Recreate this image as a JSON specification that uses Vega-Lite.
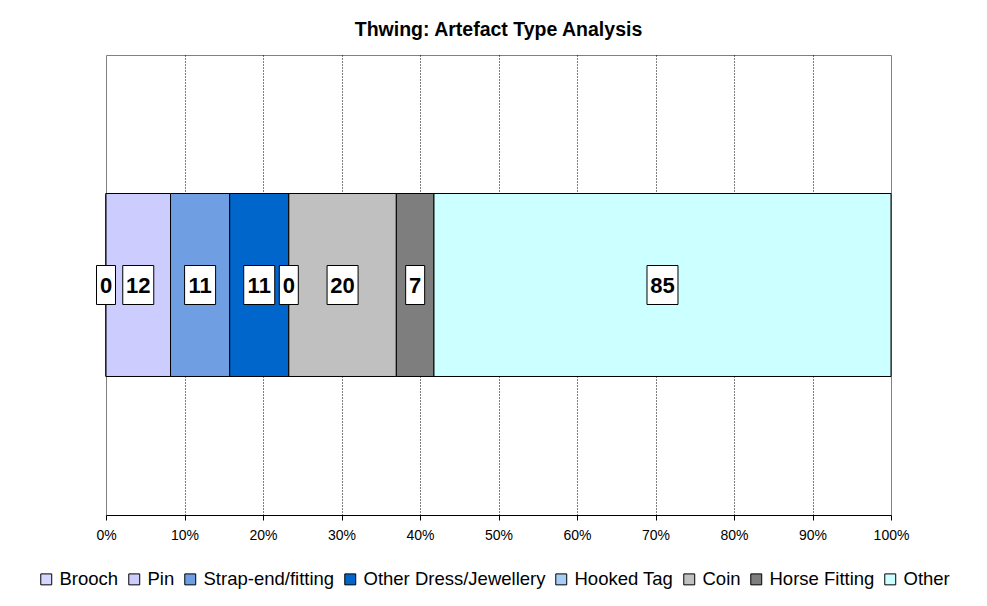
{
  "$schema": "https://vega.github.io/schema/vega-lite/v6.json",
  "autosize": "none",
  "width": 785,
  "height": 460,
  "padding": {"left": 106, "top": 55, "right": 96, "bottom": 91},
  "background": "white",
  "title": {
    "text": "Thwing: Artefact Type Analysis",
    "font": "Liberation Sans",
    "fontSize": 19.5,
    "fontWeight": "bold",
    "color": "black",
    "anchor": "middle",
    "offset": 15
  },
  "data": {
    "values": [
      {"site": "Thwing", "type": "Brooch", "count": 0, "order": 1},
      {"site": "Thwing", "type": "Pin", "count": 12, "order": 2},
      {"site": "Thwing", "type": "Strap-end/fitting", "count": 11, "order": 3},
      {"site": "Thwing", "type": "Other Dress/Jewellery", "count": 11, "order": 4},
      {"site": "Thwing", "type": "Hooked Tag", "count": 0, "order": 5},
      {"site": "Thwing", "type": "Coin", "count": 20, "order": 6},
      {"site": "Thwing", "type": "Horse Fitting", "count": 7, "order": 7},
      {"site": "Thwing", "type": "Other", "count": 85, "order": 8}
    ]
  },
  "transform": [
    {"stack": "count", "groupby": ["site"], "offset": "normalize", "sort": [{"field": "order", "order": "ascending"}], "as": ["s0", "s1"]},
    {"calculate": "(datum.s0 + datum.s1) / 2", "as": "mid"}
  ],
  "encoding": {
    "y": {
      "field": "site",
      "type": "nominal",
      "axis": null,
      "scale": {"paddingInner": 0, "paddingOuter": 0.757}
    }
  },
  "layer": [
    {
      "mark": {"type": "bar", "stroke": "black", "strokeWidth": 1, "opacity": 1},
      "encoding": {
        "x": {
          "field": "s0",
          "type": "quantitative",
          "scale": {"domain": [0, 1], "nice": false},
          "axis": {
            "values": [0, 0.1, 0.2, 0.3, 0.4, 0.5, 0.6, 0.7, 0.8, 0.9, 1],
            "format": "%",
            "title": null,
            "grid": true,
            "gridColor": "black",
            "gridDash": [1, 2],
            "gridWidth": 1,
            "gridOpacity": {"condition": {"test": "datum.value == 0 || datum.value == 1", "value": 0}, "value": 1},
            "domainColor": "black",
            "domainWidth": 1,
            "tickColor": "black",
            "tickSize": 5,
            "labelFlush": false,
            "labelAlign": "center",
            "labelFont": "Liberation Sans",
            "labelFontSize": 14,
            "labelColor": "black",
            "labelPadding": 8
          }
        },
        "x2": {"field": "s1"},
        "color": {
          "field": "type",
          "type": "nominal",
          "scale": {
            "domain": ["Brooch", "Pin", "Strap-end/fitting", "Other Dress/Jewellery", "Hooked Tag", "Coin", "Horse Fitting", "Other"],
            "range": ["#d6d6ff", "#ccccff", "#6f9fe2", "#0066cc", "#a8cdf5", "#c0c0c0", "#7e7e7e", "#ccffff"]
          },
          "legend": {
            "orient": "none",
            "legendX": -69,
            "legendY": 515,
            "direction": "horizontal",
            "columns": 8,
            "title": null,
            "symbolType": "square",
            "symbolSize": 120,
            "symbolStrokeColor": "black",
            "symbolStrokeWidth": 1,
            "symbolOpacity": 1,
            "labelFont": "Liberation Sans",
            "labelFontSize": 18.5,
            "labelColor": "black",
            "labelOffset": 4,
            "columnPadding": 6,
            "labelLimit": 300
          }
        }
      }
    },
    {
      "transform": [{"filter": "datum.count >= 10"}],
      "mark": {"type": "point", "filled": true, "fill": "white", "stroke": "black", "strokeWidth": 1, "opacity": 1, "size": 1521, "shape": "M-0.795,-1H0.795V1H-0.795Z"},
      "encoding": {
        "x": {"field": "mid", "type": "quantitative"}
      }
    },
    {
      "transform": [{"filter": "datum.count < 10"}],
      "mark": {"type": "point", "filled": true, "fill": "white", "stroke": "black", "strokeWidth": 1, "opacity": 1, "size": 1521, "shape": "M-0.487,-1H0.487V1H-0.487Z"},
      "encoding": {
        "x": {"field": "mid", "type": "quantitative"}
      }
    },
    {
      "mark": {"type": "text", "font": "Liberation Sans", "fontSize": 22, "fontWeight": "bold", "color": "black", "baseline": "middle", "align": "center", "dy": 1},
      "encoding": {
        "x": {"field": "mid", "type": "quantitative"},
        "text": {"field": "count", "type": "quantitative"}
      }
    }
  ],
  "config": {
    "view": {"stroke": "#808080", "strokeWidth": 1},
    "axis": {"ticks": true}
  }
}
